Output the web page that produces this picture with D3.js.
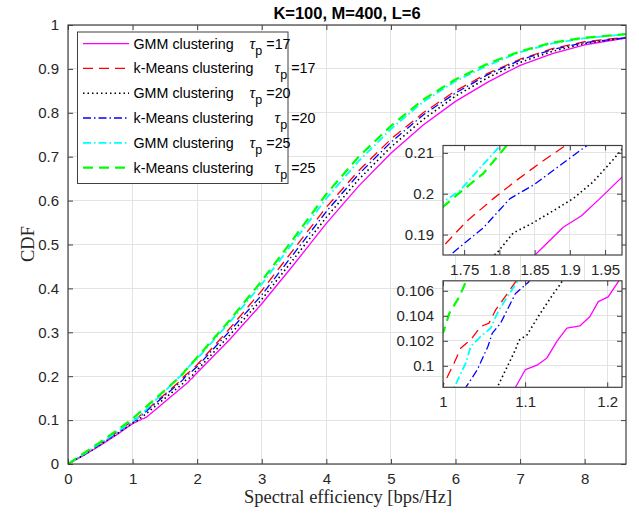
<!DOCTYPE html>
<html><head><meta charset="utf-8">
<script src="https://cdn.jsdelivr.net/npm/d3@7"></script>
<style>body{margin:0;background:#fff}</style>
</head><body>
<svg id="c" width="639" height="515"></svg>
<script>
// ---- data ----
const seriesNames = ["GMM clustering", "k-Means clustering", "GMM clustering", "k-Means clustering", "GMM clustering", "k-Means clustering"];
const seriesTau = ["17", "17", "20", "20", "25", "25"];
const gmm17 = [[0,0],[0.25,0.02],[0.5,0.042],[0.75,0.066],[1.0,0.092],
 [1.0883,0.09828],[1.1004,0.0997],[1.1145,0.10005],[1.1266,0.10063],[1.1387,0.10196],[1.1508,0.10301],[1.1669,0.1032],[1.179,0.10394],[1.1891,0.10513],[1.2012,0.10552],[1.2133,0.10671],
 [1.5,0.142],[1.8505,0.185],[1.8906,0.1918],[1.9165,0.1946],[1.9425,0.1988],[1.9736,0.204],
 [2.0,0.208],[2.5,0.283],[3,0.365],[3.5,0.455],[4,0.548],[4.5,0.633],[5,0.708],[5.5,0.772],[6,0.826],[6.5,0.87],[7,0.908],[7.5,0.935],[8,0.955],[8.64,0.97]];
const km17 = [[0,0],[0.25,0.023],[0.5,0.047],[0.75,0.072],
 [1.0008,0.09852],[1.0137,0.10024],[1.0218,0.10143],[1.0339,0.10209],[1.046,0.10314],[1.056,0.10341],[1.0641,0.10447],[1.0742,0.10539],[1.0883,0.10671],
 [1.5,0.159],[1.72,0.1871],[1.7538,0.1933],[1.7915,0.1988],[1.8245,0.2033],[1.8575,0.2075],[1.8929,0.2117],
 [2.0,0.226],[2.5,0.308],[3,0.395],[3.5,0.49],[4,0.585],[4.5,0.668],[5,0.74],[5.5,0.8],[6,0.85],[6.5,0.89],[7,0.922],[7.5,0.946],[8,0.962],[8.64,0.972]];
const gmm20 = [[0,0],[0.25,0.021],[0.5,0.044],[0.75,0.068],[1.0,0.0933],
 [1.0661,0.09828],[1.0883,0.1013],[1.0923,0.10203],[1.1024,0.10248],[1.1185,0.1042],[1.1347,0.10579],[1.1435,0.10658],
 [1.5,0.1497],[1.796,0.1854],[1.8198,0.1904],[1.848,0.1929],[1.881,0.1963],[1.9047,0.1988],[1.933,0.2029],[1.9613,0.2083],[1.9736,0.2108],
 [2.0,0.214],[2.5,0.293],[3,0.375],[3.5,0.468],[4,0.562],[4.5,0.648],[5,0.722],[5.5,0.785],[6,0.838],[6.5,0.88],[7,0.915],[7.5,0.94],[8,0.958],[8.64,0.971]];
const km20 = [[0,0],[0.25,0.022],[0.5,0.045],[0.75,0.07],[1.0,0.096],
 [1.0278,0.09828],[1.0419,0.0997],[1.0548,0.10156],[1.0601,0.10262],[1.0702,0.10341],[1.0782,0.10447],[1.0883,0.10579],[1.1044,0.10671],
 [1.5,0.156],[1.7302,0.185],[1.7774,0.1917],[1.8151,0.1988],[1.8481,0.2021],[1.8811,0.2063],[1.9236,0.2117],
 [2.0,0.222],[2.5,0.302],[3,0.385],[3.5,0.48],[4,0.575],[4.5,0.66],[5,0.733],[5.5,0.795],[6,0.845],[6.5,0.887],[7,0.92],[7.5,0.944],[8,0.96],[8.64,0.971]];
const gmm25 = [[0,0],[0.25,0.023],[0.5,0.047],[0.75,0.072],
 [1.0137,0.09828],[1.0278,0.10024],[1.0339,0.10156],[1.046,0.10235],[1.0581,0.10301],[1.0661,0.1042],[1.0782,0.10552],[1.0903,0.10671],
 [1.5,0.166],[1.7231,0.1983],[1.7443,0.2008],[1.7726,0.2063],[1.8009,0.2117],
 [2.0,0.24],[2.5,0.322],[3,0.41],[3.5,0.507],[4,0.605],[4.5,0.69],[5,0.763],[5.5,0.825],[6,0.872],[6.5,0.908],[7,0.938],[7.5,0.958],[8,0.97],[8.64,0.979]];
const km25 = [[0,0],[0.25,0.025],[0.5,0.05],[0.75,0.076],[0.95,0.0977],
 [1.0008,0.10275],[1.0077,0.1042],[1.0198,0.10552],[1.0278,0.10671],
 [1.5,0.168],[1.72,0.1968],[1.742,0.2],[1.7774,0.205],[1.8104,0.2118],
 [2.0,0.243],[2.5,0.327],[3,0.417],[3.5,0.515],[4,0.615],[4.5,0.7],[5,0.77],[5.5,0.83],[6,0.876],[6.5,0.912],[7,0.94],[7.5,0.96],[8,0.971],[8.64,0.979]];
const seriesData = [gmm17, km17, gmm20, km20, gmm25, km25];
const xTicks = [0,1,2,3,4,5,6,7,8];
const yTicks = [0,0.1,0.2,0.3,0.4,0.5,0.6,0.7,0.8,0.9,1];
const inset1XTicks = [1.75,1.8,1.85,1.9,1.95];
const inset1YTicks = [0.19,0.2,0.21];
const inset2XTicks = [1,1.1,1.2];
const inset2YTicks = [0.1,0.102,0.104,0.106];

// ---- styles ----
const colors = ["#ff00ff","#ff0000","#000000","#0000ff","#00ffff","#00ff00"];
const dashes = ["none","10,6","1.5,3","8,3,1.5,3","8,3,1.5,3","10,6"];
const widths = [1.3,1.3,1.6,1.3,1.8,2.2];
const axisCol = "#404040", gridCol = "#e3e3e3";
const sansFont = "'Liberation Sans', Arial, sans-serif";
const serifFont = "'Liberation Serif', 'DejaVu Serif', serif";

const svg = d3.select("#c");

function panel(cfg) {
  const {x0,x1,y0,y1,xd,yd,xt,yt,fmtX,fmtY,id,tickFS} = cfg;
  const x = d3.scaleLinear().domain(xd).range([x0,x1]);
  const y = d3.scaleLinear().domain(yd).range([y1,y0]);
  const g = svg.append("g");
  g.append("rect").attr("x",x0).attr("y",y0).attr("width",x1-x0).attr("height",y1-y0).attr("fill","#fff");
  g.append("g").selectAll("line").data(xt).join("line")
    .attr("x1",d=>x(d)).attr("x2",d=>x(d)).attr("y1",y0).attr("y2",y1)
    .attr("stroke",gridCol).attr("stroke-width",1).attr("shape-rendering","crispEdges");
  g.append("g").selectAll("line").data(yt).join("line")
    .attr("y1",d=>y(d)).attr("y2",d=>y(d)).attr("x1",x0).attr("x2",x1)
    .attr("stroke",gridCol).attr("stroke-width",1).attr("shape-rendering","crispEdges");
  svg.append("clipPath").attr("id",id).append("rect").attr("x",x0).attr("y",y0).attr("width",x1-x0).attr("height",y1-y0);
  const line = d3.line().x(d=>x(d[0])).y(d=>y(d[1]));
  const lg = g.append("g").attr("clip-path",`url(#${id})`);
  seriesData.forEach((s,i)=>{
    lg.append("path").attr("d",line(s)).attr("fill","none")
      .attr("stroke",colors[i]).attr("stroke-width",widths[i])
      .attr("stroke-dasharray",dashes[i]).attr("stroke-linejoin","round");
  });
  const tl = 5;
  const ax = d3.axisBottom(x).tickValues(xt).tickSize(-tl).tickSizeOuter(0).tickPadding(9).tickFormat(fmtX);
  const ay = d3.axisLeft(y).tickValues(yt).tickSize(-tl).tickSizeOuter(0).tickPadding(9).tickFormat(fmtY);
  const axT = d3.axisTop(x).tickValues(xt).tickSize(-tl).tickSizeOuter(0).tickFormat("");
  const ayR = d3.axisRight(y).tickValues(yt).tickSize(-tl).tickSizeOuter(0).tickFormat("");
  const gb = g.append("g").attr("transform",`translate(0,${y1})`).call(ax);
  const gl = g.append("g").attr("transform",`translate(${x0},0)`).call(ay);
  const gt = g.append("g").attr("transform",`translate(0,${y0})`).call(axT);
  const gr = g.append("g").attr("transform",`translate(${x1},0)`).call(ayR);
  [gb,gl,gt,gr].forEach(a=>{
    a.select(".domain").remove();
    a.selectAll("line").attr("stroke",axisCol);
    a.selectAll("text").attr("fill","#262626").style("font-family",sansFont).style("font-size",tickFS+"px");
  });
  g.append("rect").attr("x",x0).attr("y",y0).attr("width",x1-x0).attr("height",y1-y0)
    .attr("fill","none").attr("stroke",axisCol).attr("stroke-width",1.2);
  return {x,y,g};
}

const fmtMain = d=>d3.format("")(d);
panel({x0:68,x1:626,y0:25,y1:464,xd:[0,8.64],yd:[0,1],xt:xTicks,yt:yTicks,
  fmtX:fmtMain,fmtY:fmtMain,id:"clipMain",tickFS:15});

// title & labels
svg.append("text").attr("x",347).attr("y",19).attr("text-anchor","middle")
  .style("font-family",sansFont).style("font-size","16.5px").style("font-weight","bold")
  .attr("fill","#000").text("K=100, M=400, L=6");
svg.append("text").attr("x",348).attr("y",503).attr("text-anchor","middle")
  .style("font-family",serifFont).style("font-size","18.5px").attr("fill","#262626")
  .text("Spectral efficiency [bps/Hz]");
svg.append("text").attr("transform","translate(34,244) rotate(-90)").attr("text-anchor","middle")
  .style("font-family",serifFont).style("font-size","18.5px").attr("fill","#262626").text("CDF");

// insets
panel({x0:443,x1:622,y0:145.5,y1:255,xd:[1.72,1.974],yd:[0.185,0.2118],xt:inset1XTicks,yt:inset1YTicks,
  fmtX:d=>String(d),fmtY:d=>String(d),id:"clipIn1",tickFS:15});
panel({x0:443,x1:622,y0:280.8,y1:387.3,xd:[1.0,1.218],yd:[0.09828,0.1068],xt:inset2XTicks,yt:inset2YTicks,
  fmtX:d=>String(d),fmtY:d=>String(d),id:"clipIn2",tickFS:15});

// legend
const lgd = svg.append("g");
lgd.append("rect").attr("x",77.5).attr("y",32).attr("width",210.5).attr("height",151.5)
  .attr("fill","#fff").attr("stroke",axisCol).attr("stroke-width",1);
seriesNames.forEach((nm,i)=>{
  const yy = 43.6 + i*24.8;
  lgd.append("line").attr("x1",83).attr("x2",129).attr("y1",yy).attr("y2",yy)
    .attr("stroke",colors[i]).attr("stroke-width",widths[i]).attr("stroke-dasharray",dashes[i]);
  const t = lgd.append("text").attr("x",133.5).attr("y",yy+5)
    .style("font-family",sansFont).style("font-size","14.3px").attr("fill","#000");
  t.append("tspan").text(nm);
  t.append("tspan").attr("dx", i%2===0 ? 16 : 21).style("font-family",serifFont).style("font-style","italic").style("font-size","16px").text("τ");
  t.append("tspan").attr("dy",6).style("font-size","12.5px").text("p");
  t.append("tspan").attr("dy",-6).attr("dx",4).text("=" + seriesTau[i]);
});
</script>
</body></html>
